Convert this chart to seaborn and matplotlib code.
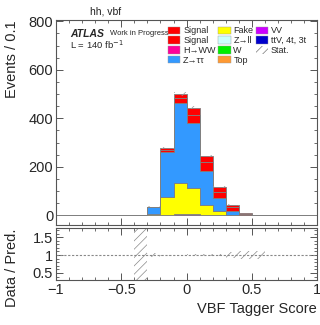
import numpy as np
import pandas as pd
import matplotlib
matplotlib.use("Agg")
import matplotlib.pyplot as plt
from matplotlib.patches import Patch
from matplotlib.ticker import MultipleLocator
import seaborn as sns

# ---- data ----
bin_low = [-0.4, -0.3, -0.2, -0.1, 0.0, 0.1, 0.2, 0.3, 0.4, 0.5]
signal_a = [0.0, 0.5, 7, 18, 32, 25, 22, 9, 4, 0.2]
signal_b = [0.0, 0.5, 7, 21, 30, 35, 22, 16, 4, 0.2]
ztautau = [0.1, 27, 186, 331, 269, 143, 57, 14, 1.5, 0.1]
fake = [0.1, 6, 74, 128, 110, 40, 15, 2, 0.5, 0.0]
vv = [0.0, 0.5, 2, 3, 3, 1, 1, 0.5, 0.1, 0.0]
stat_err = [0.5, 2.0, 4, 7, 7, 5, 4, 3, 1.0, 0.06]

process_names = ["Signal", "Signal ", "Z→ττ", "Fake", "VV"]
process_values = [signal_a, signal_b, ztautau, fake, vv]
legend_labels = ["Signal", "Signal", "H→WW", "Z→ττ", "Fake", "Z→ll", "W", "Top",
                 "VV", "ttV, 4t, 3t"]
legend_colors = ["#ff0000", "#ff0000", "#ff0099", "#3399ff", "#ffff00", "#ccffff",
                 "#00ee00", "#ff9933", "#cc00ff", "#0000cc"]
palette = {"Signal": "#ff0000", "Signal ": "#ff0000", "Z→ττ": "#3399ff",
           "Fake": "#ffff00", "VV": "#cc00ff"}

bin_width = 0.1
centers = np.array(bin_low) + bin_width / 2

rows = []
for name, vals in zip(process_names, process_values):
    for c, v in zip(centers, vals):
        rows.append({"x": c, "w": v, "proc": name})
df = pd.DataFrame(rows)

sns.set_style("ticks")
plt.rcParams["font.family"] = ["Liberation Sans", "DejaVu Sans"]
plt.rcParams["hatch.linewidth"] = 0.5

fig = plt.figure(figsize=(3.2, 3.25), dpi=100)
ax = fig.add_axes([0.175, 0.308, 0.816, 0.63])
rax = fig.add_axes([0.175, 0.138, 0.816, 0.16])

sns.histplot(data=df, x="x", weights="w", hue="proc", hue_order=process_names,
             multiple="stack", binwidth=bin_width, binrange=(-1.0, 1.0),
             element="step", palette=palette,
             alpha=1, linewidth=0.6, edgecolor="#808080", legend=False, ax=ax)

total = np.sum(np.array(process_values), axis=0)
err = np.array(stat_err)
ax.bar(centers, 2 * err, bottom=total - err, width=bin_width, fill=False,
       hatch="///", edgecolor="#999999", linewidth=0)
ax.axhline(0, color="#777777", lw=0.7, zorder=0.5)

ax.set_xlim(-1, 1)
ax.set_ylim(-40, 805)
ax.set_xlabel("")
ax.set_ylabel("Events / 0.1", fontsize=10.5, loc="top")
ax.yaxis.set_label_coords(-0.14, 1.0)
ax.tick_params(labelbottom=False)
ax.yaxis.set_major_locator(MultipleLocator(200))
ax.yaxis.set_minor_locator(MultipleLocator(50))

# ratio panel
rel = err / np.where(total > 0, total, 1)
rax.bar(centers, 2 * rel, bottom=1 - rel, width=bin_width, fill=False,
        hatch="////", edgecolor="#888888", linewidth=0)
rax.axhline(1, color="#888888", lw=0.8, ls=(0, (2, 1.5)))
rax.set_xlim(-1, 1)
rax.set_ylim(0.3, 1.75)
rax.set_yticks([0.5, 1, 1.5])
rax.set_yticklabels(["0.5", "1", "1.5"])
rax.yaxis.set_minor_locator(MultipleLocator(0.1))
rax.set_ylabel("Data / Pred.", fontsize=10.5, loc="top")
rax.yaxis.set_label_coords(-0.14, 1.0)
rax.set_xlabel("VBF Tagger Score", fontsize=10.5, loc="right")

for a in (ax, rax):
    a.xaxis.set_major_locator(MultipleLocator(0.5))
    a.xaxis.set_minor_locator(MultipleLocator(0.1))
    a.tick_params(which="both", direction="in", top=True, right=True,
                  color="#555555", labelsize=10.5, pad=2)
    a.tick_params(which="major", length=5, width=0.7)
    a.tick_params(which="minor", length=2.5, width=0.6)
    for s in a.spines.values():
        s.set_color("#555555")
        s.set_linewidth(0.8)
rax.set_xticks([-1, -0.5, 0, 0.5, 1])
rax.set_xticklabels(["−1", "−0.5", "0", "0.5", "1"])

# texts
fig.text(0.28, 0.955, "hh, vbf", fontsize=7.5, color="#222222")
ax.text(0.055, 0.93, "ATLAS", transform=ax.transAxes, fontsize=7.5,
        fontweight="bold", fontstyle="italic", va="center")
ax.text(0.205, 0.937, "Work in Progress", transform=ax.transAxes, fontsize=5.5,
        va="center", family=["Liberation Sans Narrow", "Liberation Sans"])
ax.text(0.055, 0.878, "L = 140 fb$^{-1}$", transform=ax.transAxes, fontsize=6.8,
        va="center")

handles = [Patch(facecolor=c, edgecolor="#999999", linewidth=0.3)
           for c in legend_colors]
handles.append(Patch(facecolor="white", edgecolor="#777777", hatch="////",
                     linewidth=0))
labels = legend_labels + ["Stat."]
leg = ax.legend(handles, labels, ncol=3, loc="upper left",
                bbox_to_anchor=(0.43, 0.97), frameon=False, fontsize=6.5,
                handlelength=1.35, handleheight=0.85, handletextpad=0.3,
                columnspacing=0.3, labelspacing=0.1, borderaxespad=0,
                borderpad=0)

fig.savefig("out.png", dpi=100)
